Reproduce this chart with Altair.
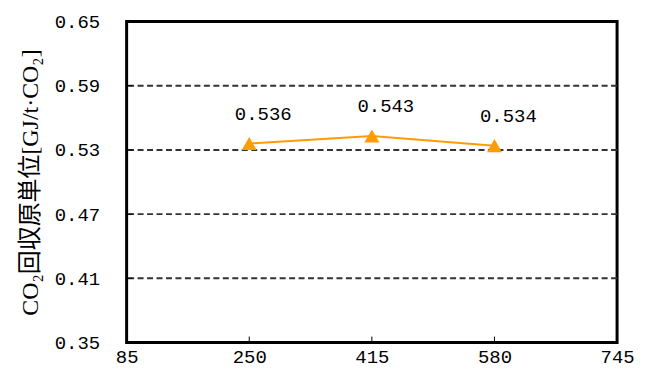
import altair as alt
import pandas as pd

x_vals = [250, 415, 580]
y_vals = [0.536, 0.543, 0.534]
labels = ["0.536", "0.543", "0.534"]
x_ticks = [85, 250, 415, 580, 745]
y_ticks = [0.35, 0.41, 0.47, 0.53, 0.59, 0.65]
grid_vals = [0.41, 0.47, 0.53, 0.59]
y_title = "CO₂回収原単位[GJ/t·CO₂]"

W, H = 492, 322
NUM_FONT = "Liberation Mono"
TITLE_FONT = "Liberation Serif, Noto Sans CJK JP"
ORANGE = "#FF9C00"

df = pd.DataFrame({"x": x_vals, "y": y_vals, "label": labels})
grid_df = pd.DataFrame({"y": grid_vals})
ytick_df = pd.DataFrame({"y": grid_vals})
xtick_df = pd.DataFrame({"x": x_ticks[1:-1]})

xs = alt.Scale(domain=[85, 745], nice=False, zero=False)
ys = alt.Scale(domain=[0.35, 0.65], nice=False, zero=False)

x_axis = alt.Axis(values=x_ticks, ticks=False, grid=False, domain=False,
                  labelFont=NUM_FONT, labelFontSize=19, labelColor="black",
                  labelPadding=5, title=None, labelFlush=False)
y_axis = alt.Axis(values=y_ticks, ticks=False, grid=False, domain=False, format=".2f",
                  labelFont=NUM_FONT, labelFontSize=19, labelColor="black",
                  labelPadding=27, labelFlush=False,
                  title=y_title, titleFont=TITLE_FONT, titleFontSize=24,
                  titleFontWeight="normal", titleColor="black", titlePadding=12)

grid = alt.Chart(grid_df).mark_rule(color="#333333", strokeWidth=2, strokeDash=[6, 3.5]).encode(
    y=alt.Y("y:Q", scale=ys, axis=y_axis)
)

yticks = alt.Chart(ytick_df).mark_rule(color="black", strokeWidth=1).encode(
    y=alt.Y("y:Q", scale=ys), x=alt.value(0), x2=alt.value(6)
)
xticks = alt.Chart(xtick_df).mark_rule(color="black", strokeWidth=1).encode(
    x=alt.X("x:Q", scale=xs, axis=x_axis), y=alt.value(H), y2=alt.value(H - 6)
)

line = alt.Chart(df).mark_line(color=ORANGE, strokeWidth=2).encode(
    x=alt.X("x:Q", scale=xs), y=alt.Y("y:Q", scale=ys)
)
pts = alt.Chart(df).mark_point(shape="triangle-up", filled=True, color=ORANGE,
                               size=230, opacity=1).encode(
    x=alt.X("x:Q", scale=xs), y=alt.Y("y:Q", scale=ys)
)
text = alt.Chart(df).mark_text(font=NUM_FONT, fontSize=19, color="black",
                               dx=14, dy=-30).encode(
    x=alt.X("x:Q", scale=xs), y=alt.Y("y:Q", scale=ys), text="label:N"
)

chart = alt.layer(grid, yticks, xticks, line, pts, text).properties(
    width=W, height=H, padding={"left": 10, "top": 4, "right": 5, "bottom": 5},
    background="white"
).configure_view(stroke="black", strokeWidth=3)

chart.save("out.html", embed_options={"renderer": "svg", "actions": False})
